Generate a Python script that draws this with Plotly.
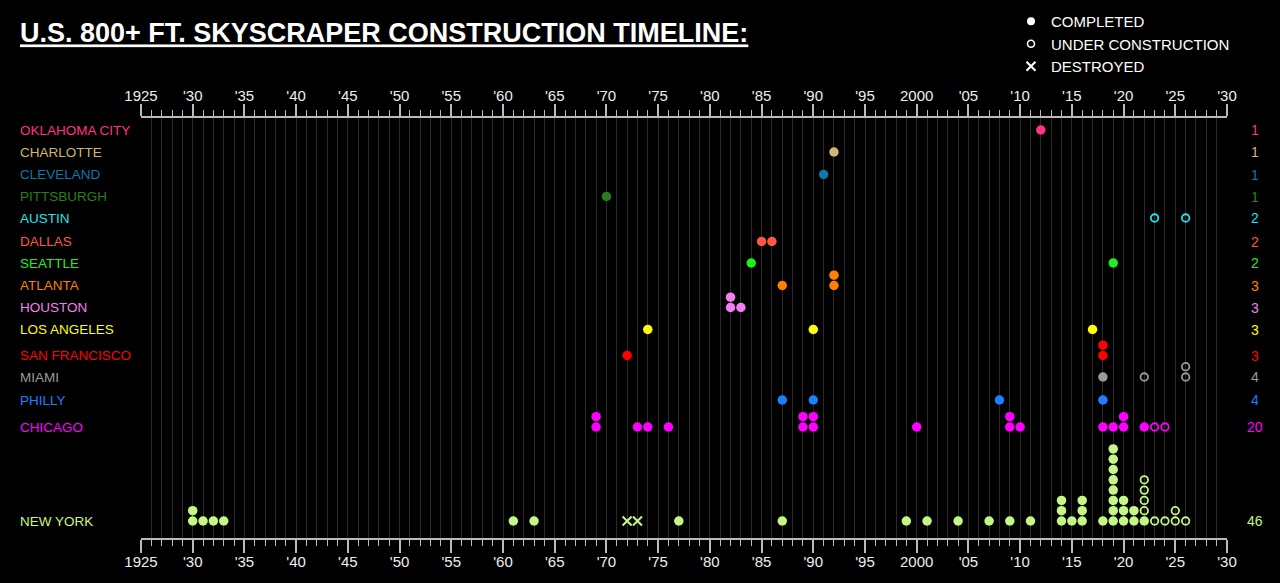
import plotly.graph_objects as go

# ---------------- data ----------------
CITIES = ["OKLAHOMA CITY", "CHARLOTTE", "CLEVELAND", "PITTSBURGH", "AUSTIN",
          "DALLAS", "SEATTLE", "ATLANTA", "HOUSTON", "LOS ANGELES",
          "SAN FRANCISCO", "MIAMI", "PHILLY", "CHICAGO", "NEW YORK"]

COLORS = ["#FF3385", "#D2B478", "#0F78A8", "#26801A", "#20E4EC",
          "#FF5544", "#1EF01E", "#FF8000", "#F080F0", "#FFFF00",
          "#FF0000", "#9A9A9A", "#1A80FF", "#FF00FF", "#C5F784"]

COMPLETED = [
    [2012],
    [1992],
    [1991],
    [1970],
    [],
    [1985, 1986],
    [1984, 2019],
    [1987, 1992, 1992],
    [1982, 1982, 1983],
    [1974, 1990, 2017],
    [1972, 2018, 2018],
    [2018],
    [1987, 1990, 2008, 2018],
    [1969, 1969, 1973, 1974, 1976, 1989, 1989, 1990, 1990, 2000,
     2009, 2009, 2010, 2018, 2019, 2020, 2020, 2022],
    [1930, 1930, 1931, 1932, 1933, 1961, 1963, 1977, 1987, 1999,
     2001, 2004, 2007, 2009, 2011, 2014, 2014, 2014, 2015,
     2016, 2016, 2016, 2018,
     2019, 2019, 2019, 2019, 2019, 2019, 2019, 2019,
     2020, 2020, 2020, 2021, 2021, 2022],
]

UNDER_CONSTRUCTION = [
    [], [], [], [],
    [2023, 2026],
    [], [], [], [], [], [],
    [2022, 2026, 2026],
    [],
    [2023, 2024],
    [2022, 2022, 2022, 2022, 2023, 2024, 2025, 2025, 2026],
]

DESTROYED = [[] for _ in range(14)] + [[1972, 1973]]

TICK_YEARS = list(range(1925, 2031, 5))
TICK_LABELS = ["1925", "'30", "'35", "'40", "'45", "'50", "'55", "'60", "'65",
               "'70", "'75", "'80", "'85", "'90", "'95", "2000", "'05", "'10",
               "'15", "'20", "'25", "'30"]
MINOR_YEARS = list(range(1925, 2031))

# ---------------- layout constants ----------------
ROW_Y = [130, 152, 174.5, 196.5, 218, 241.5, 263, 285.5, 307.5, 329.5,
         355.5, 377, 400, 427, 521]
STACK_STEP = 10.3
W, H = 1280, 583
L, R, T, B = 141, 53, 118, 45
PW = W - L - R
PH = H - T - B
FONT = "Liberation Sans, Arial, Helvetica, sans-serif"


def px_to_paper_x(px):
    return (px - L) / PW


def px_to_paper_y(py):
    return (H - B - py) / PH


fig = go.Figure()

for i, city in enumerate(CITIES):
    stack = {}
    groups = [("completed", COMPLETED[i]), ("uc", UNDER_CONSTRUCTION[i]),
              ("destroyed", DESTROYED[i])]
    for kind, years in groups:
        xs, ys = [], []
        for yr in years:
            k = stack.get(yr, 0)
            stack[yr] = k + 1
            xs.append(yr)
            ys.append(ROW_Y[i] - k * STACK_STEP)
        if not xs:
            continue
        if kind == "completed":
            marker = dict(symbol="circle", size=9.5, color=COLORS[i],
                          line=dict(width=0))
        elif kind == "uc":
            marker = dict(symbol="circle-open", size=7.5, color=COLORS[i],
                          line=dict(width=1.8, color=COLORS[i]))
        else:
            marker = dict(symbol="x-thin-open", size=9, color=COLORS[i],
                          line=dict(width=2, color=COLORS[i]))
        fig.add_trace(go.Scatter(x=xs, y=ys, mode="markers", marker=marker,
                                 name=f"{city} {kind}", showlegend=False,
                                 cliponaxis=False, hoverinfo="x+name"))

# legend entries
fig.add_trace(go.Scatter(x=[None], y=[None], mode="markers", name="COMPLETED",
                         marker=dict(symbol="circle", size=8, color="white")))
fig.add_trace(go.Scatter(x=[None], y=[None], mode="markers",
                         name="UNDER CONSTRUCTION",
                         marker=dict(symbol="circle-open", size=7, color="white",
                                     line=dict(width=1.6, color="white"))))
fig.add_trace(go.Scatter(x=[None], y=[None], mode="markers", name="DESTROYED",
                         marker=dict(symbol="x-thin-open", size=9, color="white",
                                     line=dict(width=2, color="white"))))
# anchor for top axis
fig.add_trace(go.Scatter(x=[1925, 2030], y=[None, None], xaxis="x2",
                         mode="markers", showlegend=False, hoverinfo="skip"))

annotations = []
for i, city in enumerate(CITIES):
    annotations.append(dict(
        xref="paper", yref="y", x=px_to_paper_x(18), y=ROW_Y[i],
        text=city, showarrow=False, xanchor="left", yanchor="middle",
        font=dict(family=FONT, size=13.5, color=COLORS[i])))
    count = len(COMPLETED[i]) + len(UNDER_CONSTRUCTION[i])
    annotations.append(dict(
        xref="paper", yref="y", x=px_to_paper_x(1255), y=ROW_Y[i],
        text=str(count), showarrow=False, xanchor="center", yanchor="middle",
        font=dict(family=FONT, size=14, color=COLORS[i])))

axis_common = dict(
    range=[1925, 2030],
    tickmode="array", tickvals=TICK_YEARS, ticktext=TICK_LABELS,
    ticks="outside", tickwidth=1.5, tickcolor="#BBBBBB",
    showline=True, linecolor="#BBBBBB", linewidth=2,
    showgrid=True, gridcolor="#2A2A2A", gridwidth=1,
    zeroline=False, automargin=False,
    tickfont=dict(family=FONT, size=15, color="#EEEEEE"),
    minor=dict(tickmode="array", tickvals=MINOR_YEARS, ticks="outside",
               ticklen=6, tickwidth=1, tickcolor="#BBBBBB",
               showgrid=True, gridcolor="#2A2A2A", gridwidth=1),
    fixedrange=True,
)

fig.update_layout(
    width=W, height=H,
    margin=dict(l=L, r=R, t=T, b=B, pad=0, autoexpand=False),
    paper_bgcolor="black", plot_bgcolor="black",
    font=dict(family=FONT, color="white"),
    title=dict(
        text="U.S. 800+ FT. SKYSCRAPER CONSTRUCTION TIMELINE:",
        x=20 / W, xanchor="left", xref="container",
        y=1 - 33 / H, yanchor="middle", yref="container",
        font=dict(family=FONT, size=27, color="white", weight="bold",
                  lineposition="under"),
    ),
    xaxis=dict(side="bottom", ticklen=13, ticklabelstandoff=-4, **axis_common),
    xaxis2=dict(side="top", overlaying="x", ticklen=12, ticklabelstandoff=-3,
                **axis_common),
    yaxis=dict(range=[H - B, T], showgrid=False, showline=False,
               showticklabels=False, zeroline=False, ticks="",
               fixedrange=True, automargin=False),
    legend=dict(x=px_to_paper_x(1011), y=px_to_paper_y(5), xanchor="left",
                yanchor="top", bgcolor="rgba(0,0,0,0)",
                font=dict(family=FONT, size=15, color="white"),
                itemwidth=30, tracegroupgap=0),
    annotations=annotations,
    showlegend=True,
)

fig.write_html(
    "out.html",
    config={"displayModeBar": False},
    post_script="document.body.style.margin='0';"
                "document.body.style.background='black';",
)
